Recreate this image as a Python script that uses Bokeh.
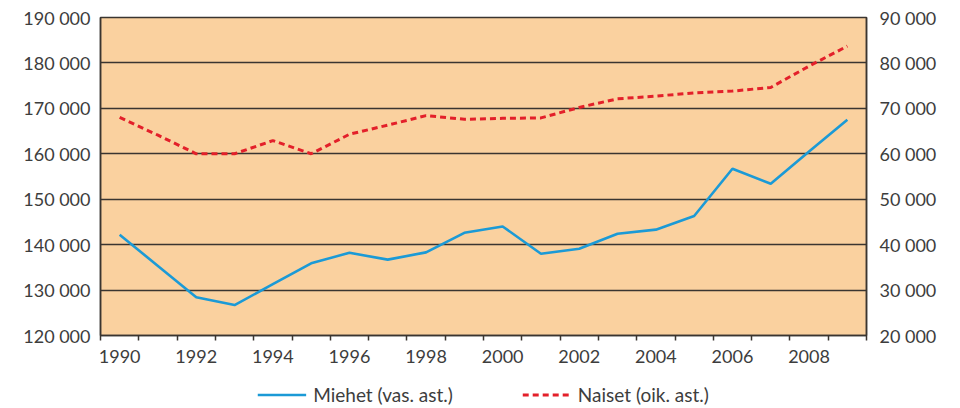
from bokeh.plotting import figure
from bokeh.layouts import column
from bokeh.models import (Range1d, LinearAxis, FixedTicker, Legend, LegendItem)
from bokeh.embed import file_html
from bokeh.resources import INLINE

# ---- data ----
years = list(range(1990, 2010))
miehet = [142200, 135300, 128400, 126700, 131300, 135900, 138200, 136700, 138300, 142600,
          144000, 138000, 139100, 142400, 143300, 146300, 156700, 153400, 160500, 167500]
naiset = [68000, 64100, 60000, 60000, 62900, 60000, 64300, 66300, 68400, 67600,
          67800, 67900, 70200, 72100, 72700, 73400, 73800, 74600, 79300, 83700]
x_label_years = [1990, 1992, 1994, 1996, 1998, 2000, 2002, 2004, 2006, 2008]
left_ticks = [120000, 130000, 140000, 150000, 160000, 170000, 180000, 190000]
left_labels = ["120 000", "130 000", "140 000", "150 000", "160 000", "170 000", "180 000", "190 000"]
right_ticks = [20000, 30000, 40000, 50000, 60000, 70000, 80000, 90000]
right_labels = ["20 000", "30 000", "40 000", "50 000", "60 000", "70 000", "80 000", "90 000"]
series_names = ["Miehet (vas. ast.)", "Naiset (oik. ast.)"]

FONT = "Lato"
TXT = "#3d3d3d"
DARK = "#3a3530"
BLUE = "#1b9ad6"
RED = "#e3202a"
BLUE_STYLE = dict(line_color=BLUE, line_width=2.6)
RED_STYLE = dict(line_color=RED, line_width=3, line_dash="6 4")

p = figure(frame_width=766, frame_height=318, output_backend="svg", toolbar_location=None,
           x_range=Range1d(years[0] - 0.5, years[-1] + 0.5),
           y_range=Range1d(left_ticks[0], left_ticks[-1]),
           min_border_left=100, min_border_right=94, min_border_top=17, min_border_bottom=45)
p.background_fill_color = "#FAD19F"
p.border_fill_color = "white"
p.outline_line_color = DARK
p.outline_line_width = 1.5

p.extra_y_ranges = {"right": Range1d(right_ticks[0], right_ticks[-1])}

# x axis
xa = p.xaxis[0]
xa.ticker = FixedTicker(ticks=x_label_years,
                        minor_ticks=[y - 0.5 for y in years] + [years[-1] + 0.5])
xa.major_tick_line_color = None
xa.major_tick_out = 0
xa.major_tick_in = 0
xa.minor_tick_line_color = DARK
xa.minor_tick_line_width = 1.5
xa.minor_tick_out = 5
xa.minor_tick_in = 0
xa.axis_line_color = DARK
xa.axis_line_width = 1.5
xa.major_label_text_font = FONT
xa.major_label_text_font_size = "18px"
xa.major_label_text_color = TXT
xa.major_label_standoff = 9

# left axis
ya = p.yaxis[0]
ya.ticker = FixedTicker(ticks=left_ticks)
ya.major_label_overrides = {t: l for t, l in zip(left_ticks, left_labels)}
ya.major_tick_line_color = None
ya.minor_tick_line_color = None
ya.major_tick_out = 0
ya.major_tick_in = 0
ya.axis_line_color = DARK
ya.axis_line_width = 1.5
ya.major_label_text_font = FONT
ya.major_label_text_font_size = "18px"
ya.major_label_text_color = TXT
ya.major_label_standoff = 10

# right axis
ra = LinearAxis(y_range_name="right", ticker=FixedTicker(ticks=right_ticks))
ra.major_label_overrides = {t: l for t, l in zip(right_ticks, right_labels)}
ra.major_tick_line_color = None
ra.minor_tick_line_color = None
ra.major_tick_out = 0
ra.major_tick_in = 0
ra.axis_line_color = DARK
ra.axis_line_width = 1.5
ra.major_label_text_font = FONT
ra.major_label_text_font_size = "18px"
ra.major_label_text_color = TXT
ra.major_label_standoff = 13
p.add_layout(ra, "right")

p.xgrid.grid_line_color = None
p.ygrid.ticker = FixedTicker(ticks=left_ticks)
p.ygrid.grid_line_color = DARK
p.ygrid.grid_line_width = 1.5

p.line(years, miehet, **BLUE_STYLE)
p.line(years, naiset, y_range_name="right", **RED_STYLE)

# ---- legend strip below the chart (series drawn off-view; only legend shows) ----
pl = figure(frame_width=766, frame_height=28, output_backend="svg", toolbar_location=None,
            min_border_left=90, min_border_right=104, min_border_top=0, min_border_bottom=0,
            x_range=Range1d(0, 1), y_range=Range1d(0, 1))
pl.axis.visible = False
pl.grid.visible = False
pl.outline_line_color = None
pl.background_fill_color = "white"
pl.border_fill_color = "white"
l1 = pl.line(years, miehet, **BLUE_STYLE)
l2 = pl.line(years, naiset, **RED_STYLE)
legend = Legend(items=[LegendItem(label=series_names[0], renderers=[l1]),
                       LegendItem(label=series_names[1], renderers=[l2])],
                location="center", orientation="horizontal")
legend.border_line_color = None
legend.background_fill_alpha = 0
legend.padding = 0
legend.margin = 0
legend.spacing = 69
legend.glyph_width = 49
legend.label_standoff = 7
legend.label_text_font = FONT
legend.label_text_font_size = "19px"
legend.label_text_color = TXT
pl.add_layout(legend, "center")

layout = column(p, pl, spacing=0)
open("out.html", "w").write(file_html(layout, INLINE))
